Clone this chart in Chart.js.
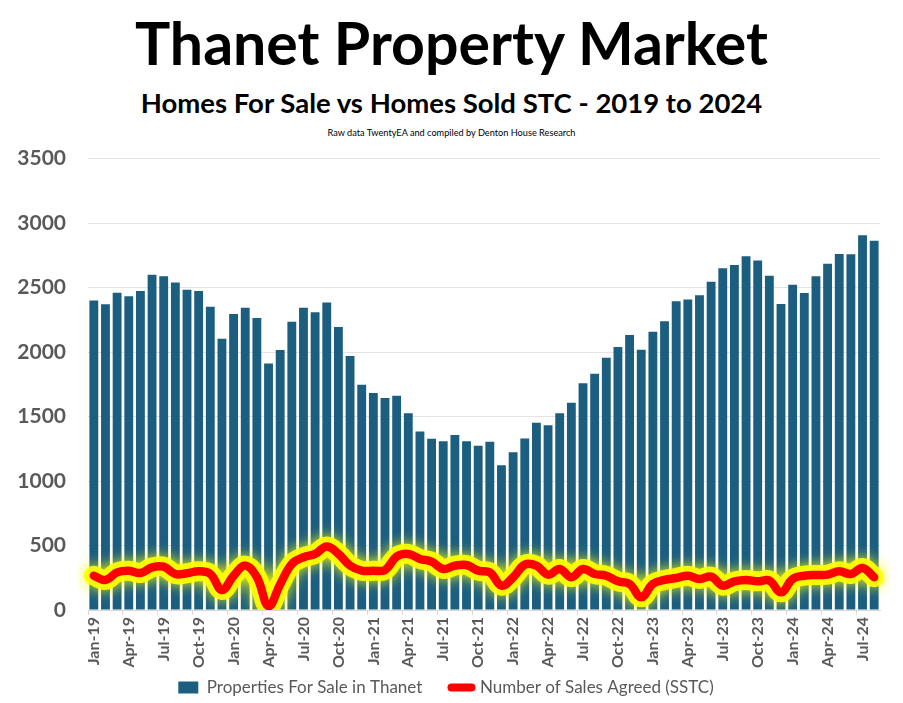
<!DOCTYPE html>
<html>
<head>
<meta charset="utf-8">
<script src="https://cdn.jsdelivr.net/npm/chart.js@4/dist/chart.umd.min.js"></script>
<style>
  html, body { margin: 0; padding: 0; background: #fff; }
  body { width: 903px; height: 703px; position: relative; overflow: hidden; font-family: Lato, 'Open Sans', sans-serif; }
  .t1 { position: absolute; top: 5px; left: 0; width: 903px; text-align: center; font-weight: 700; font-size: 59px; line-height: 76px; color: #000; }
  .t2 { position: absolute; top: 86px; left: 0; width: 903px; text-align: center; font-weight: 700; font-size: 27.5px; line-height: 34px; color: #000; }
  .t3 { position: absolute; top: 126px; left: 0; width: 903px; text-align: center; font-size: 9.2px; line-height: 14px; color: #000; }
  #wrap { position: absolute; left: 0; top: 124px; width: 903px; height: 579px; }
</style>
</head>
<body>
<div class="t1">Thanet Property Market</div>
<div class="t2">Homes For Sale vs Homes Sold STC - 2019 to 2024</div>
<div class="t3">Raw data TwentyEA and compiled by Denton House Research</div>
<div id="wrap"><canvas id="chart"></canvas></div>

<script>
// ── Data ─────────────────────────────────────────────────────────────────────

const MONTHS = ['Jan', 'Feb', 'Mar', 'Apr', 'May', 'Jun', 'Jul', 'Aug', 'Sep', 'Oct', 'Nov', 'Dec'];
const YEARS  = ['19', '20', '21', '22', '23', '24'];

// Jan-19 .. Aug-24
const labels = [];
YEARS.forEach(y => MONTHS.forEach(m => labels.push(`${m}-${y}`)));
labels.length = 68;

const forSale = [
  2400, 2370, 2460, 2432, 2473, 2600, 2587, 2540, 2484, 2473, 2352, 2103,
  2295, 2344, 2264, 1912, 2015, 2235, 2344, 2308, 2385, 2194, 1969, 1746,
  1682, 1643, 1661, 1526, 1384, 1327, 1309, 1356, 1309, 1273, 1304, 1123,
  1224, 1330, 1451, 1433, 1526, 1607, 1759, 1832, 1956, 2039, 2132, 2018,
  2158, 2238, 2393, 2408, 2440, 2546, 2649, 2675, 2742, 2709, 2592, 2372,
  2522, 2458, 2587, 2685, 2760, 2758, 2905, 2864,
];

const salesAgreed = [
  266, 233, 292, 305, 287, 331, 336, 279, 285, 300, 279, 155,
  266, 344, 254, 30, 200, 357, 409, 435, 492, 435, 344, 305,
  305, 310, 414, 435, 396, 375, 318, 344, 349, 305, 292, 189,
  254, 352, 344, 274, 318, 254, 318, 279, 266, 222, 202, 98,
  202, 233, 248, 266, 241, 259, 189, 222, 233, 222, 228, 137,
  241, 266, 272, 274, 300, 279, 326, 254,
];

const yTicks = [0, 500, 1000, 1500, 2000, 2500, 3000, 3500];

const BAR_COLOR  = '#1b5e80';
const LINE_COLOR = '#ff0000';
const GLOW_COLOR = '#ffff00';
const TEXT_GRAY  = '#595959';

// ── Glow plugin (yellow halo under the red line) ─────────────────────────────

const glowPlugin = {
  id: 'glow',
  beforeDatasetDraw(chart, args) {
    if (!chart.data.datasets[args.index].glow) return;
    const ctx = chart.ctx;
    ctx.save();
    ctx.shadowColor = GLOW_COLOR;
    ctx.shadowBlur  = 14;
  },
  afterDatasetDraw(chart, args) {
    if (!chart.data.datasets[args.index].glow) return;
    chart.ctx.restore();
  },
};

// ── Chart ────────────────────────────────────────────────────────────────────

new Chart(document.getElementById('chart'), {
  data: {
    labels,
    datasets: [
      {
        type: 'bar',
        label: 'Properties For Sale in Thanet      ',
        data: forSale,
        backgroundColor: BAR_COLOR,
        categoryPercentage: 1,
        barPercentage: 0.76,
        order: 3,
      },
      {
        type: 'line',
        label: 'Number of Sales Agreed (SSTC)',
        data: salesAgreed,
        borderColor: LINE_COLOR,
        backgroundColor: LINE_COLOR,
        borderWidth: 8.5,
        borderCapStyle: 'round',
        borderJoinStyle: 'round',
        tension: 0.4,
        pointRadius: 0,
        order: 1,
      },
      {
        type: 'line',
        label: 'glow',
        glow: true,
        data: salesAgreed,
        borderColor: 'rgba(255,255,0,0.9)',
        borderWidth: 20,
        borderCapStyle: 'round',
        borderJoinStyle: 'round',
        tension: 0.4,
        pointRadius: 0,
        order: 2,
      },
    ],
  },
  plugins: [glowPlugin],
  options: {
    responsive: true,
    maintainAspectRatio: false,
    animation: false,
    layout: { padding: { left: 12, right: 23, top: 3, bottom: -3 } },
    plugins: {
      tooltip: { enabled: false },
      legend: {
        position: 'bottom',
        labels: {
          color: TEXT_GRAY,
          font: { family: 'Lato', size: 17 },
          usePointStyle: true,
          pointStyleWidth: 20,
          boxHeight: 12,
          padding: 3,
          generateLabels: chart => chart.data.datasets
            .map((ds, i) => ({ ds, i }))
            .filter(({ ds }) => !ds.glow)
            .map(({ ds, i }) => ds.type === 'bar'
              ? { text: ds.label, fillStyle: BAR_COLOR, strokeStyle: BAR_COLOR, lineWidth: 0,
                  pointStyle: 'rect', fontColor: TEXT_GRAY, datasetIndex: i }
              : { text: ds.label, fillStyle: LINE_COLOR, strokeStyle: LINE_COLOR, lineWidth: 8,
                  lineCap: 'round', pointStyle: 'line', fontColor: TEXT_GRAY, datasetIndex: i }),
        },
      },
    },
    scales: {
      x: {
        offset: true,
        grid: {
          drawOnChartArea: false,
          drawTicks: true,
          tickLength: 5,
          offset: true,
          color: ctx => (ctx.index % 3 === 0 ? '#d9d9d9' : 'rgba(0,0,0,0)'),
        },
        border: { color: '#d9d9d9' },
        ticks: {
          autoSkip: false,
          maxRotation: 90,
          minRotation: 90,
          padding: 2,
          color: TEXT_GRAY,
          font: { family: 'Lato', size: 16, weight: 'bold' },
          callback: (v, i) => (i % 3 === 0 ? labels[i] : ''),
        },
        afterFit: s => { s.height = 66; },
      },
      y: {
        min: 0,
        max: 3500,
        afterBuildTicks: s => { s.ticks = yTicks.map(v => ({ value: v })); },
        grid: { color: '#e4e4e4', drawTicks: false },
        border: { display: false },
        ticks: {
          padding: 22,
          color: TEXT_GRAY,
          font: { family: 'Lato', size: 21, weight: 'bold' },
          callback: v => String(v),
        },
        afterFit: s => { s.width = 76; },
      },
    },
  },
});
</script>
</body>
</html>
